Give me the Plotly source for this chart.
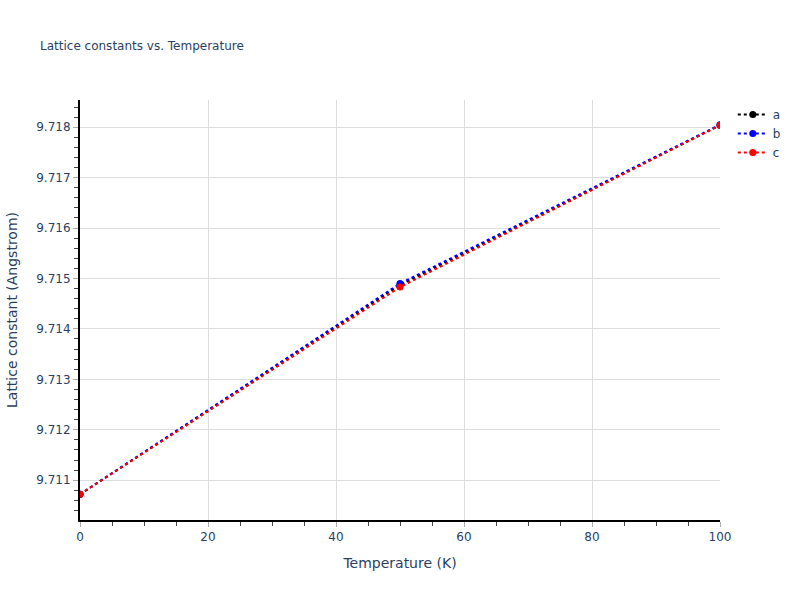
import plotly.graph_objects as go

temperature = [0, 50, 100]
a_vals = [9.71072, 9.71487, 9.71804]
b_vals = [9.71072, 9.71490, 9.71805]
c_vals = [9.71072, 9.71483, 9.71804]

series = [("a", a_vals, "black"), ("b", b_vals, "blue"), ("c", c_vals, "red")]

fig = go.Figure()
for name, vals, color in series:
    fig.add_trace(go.Scatter(
        x=temperature, y=vals, name=name, mode="lines+markers",
        line=dict(color=color, dash="dot", width=2),
        marker=dict(color=color, size=7),
    ))

axis_style = dict(
    showline=True, linecolor="black", linewidth=2,
    ticks="outside", tickcolor="#aaa", ticklen=5,
    showgrid=True, gridcolor="#dddddd", zeroline=False,
    title_font=dict(size=14),
    tickfont=dict(size=12),
)

fig.update_layout(
    width=800, height=600,
    paper_bgcolor="white", plot_bgcolor="white",
    title=dict(text="Lattice constants vs. Temperature", font=dict(size=12), x=0.05),
    margin=dict(l=80, r=80, t=100, b=80),
    font=dict(family="DejaVu Sans, Verdana, sans-serif", color="#2a3f5f", size=12),
    legend=dict(font=dict(size=12)),
)
fig.update_xaxes(title_text="Temperature (K)", range=[0, 100], dtick=20,
                 minor=dict(ticks="outside", ticklen=4, tickcolor="#444", dtick=5, showgrid=False),
                 **axis_style)
fig.update_yaxes(title_text="Lattice constant (Angstrom)", range=[9.71021, 9.71854], dtick=0.001,
                 tickformat=".3f",
                 minor=dict(ticks="outside", ticklen=4, tickcolor="#444", dtick=0.0002, showgrid=False),
                 **axis_style)

# drop the page's default body margin so the figure sits at the window corner
fig.write_html("out.html", config={"displayModeBar": False},
               post_script="document.body.style.margin='0';")
